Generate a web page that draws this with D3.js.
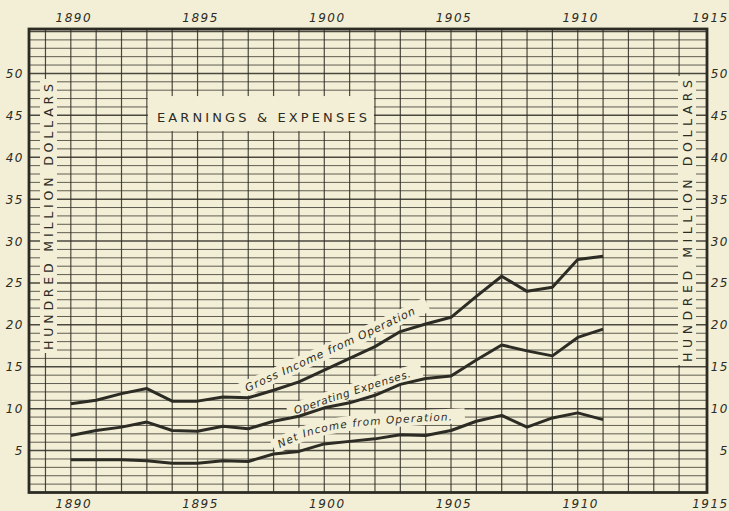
<!DOCTYPE html>
<html>
<head>
<meta charset="utf-8">
<script src="https://cdn.jsdelivr.net/npm/d3@7"></script>
<style>
html, body { margin: 0; padding: 0; background: #f3efd7; }
svg { display: block; }
</style>
</head>
<body>
<div id="chart"></div>
<script>
// values in hundred million dollars
const years = d3.range(1890, 1912);
const gross     = [10.6, 11.0, 11.8, 12.4, 10.9, 10.9, 11.4, 11.3, 12.2, 13.2, 14.6, 16.0, 17.4, 19.2, 20.1, 20.9, 23.4, 25.8, 24.0, 24.5, 27.8, 28.2];
const operating = [6.8, 7.4, 7.8, 8.4, 7.4, 7.3, 7.9, 7.6, 8.5, 9.1, 10.1, 10.7, 11.6, 12.9, 13.6, 13.9, 15.8, 17.6, 16.9, 16.3, 18.5, 19.5];
const net       = [3.9, 3.9, 3.9, 3.8, 3.5, 3.5, 3.8, 3.7, 4.6, 4.9, 5.8, 6.1, 6.4, 6.9, 6.8, 7.4, 8.5, 9.2, 7.8, 8.9, 9.5, 8.7];

const yTicks = [5, 10, 15, 20, 25, 30, 35, 40, 45, 50];
const yearTicks = [1890, 1895, 1900, 1905, 1910, 1915];
const seriesNames = ["Gross Income from Operation", "Operating Expenses.", "Net Income from Operation."];
const chartTitle = "EARNINGS & EXPENSES";
const unitTitle = "HUNDRED MILLION DOLLARS";

const W = 729, H = 511;
const ink = "#2d2c24", paper = "#f3efd7";

const x = d3.scaleLinear().domain([1888.35, 1915.1]).range([29, 707]);
const y = d3.scaleLinear().domain([0, 55.3]).range([492.5, 29]);

const svg = d3.select("#chart").append("svg")
	.attr("width", W)
	.attr("height", H)
	.style("background", paper);

// grid
const grid = svg.append("g").attr("stroke", ink).attr("fill", "none");
grid.selectAll(".h")
	.data(d3.range(1, 56))
	.enter().append("line")
	.attr("x1", x.range()[0]).attr("x2", x.range()[1])
	.attr("y1", (d) => y(d)).attr("y2", (d) => y(d))
	.attr("stroke-width", (d) => d % 5 === 0 ? 1.5 : 1)
	.attr("stroke-opacity", (d) => d % 5 === 0 ? 0.85 : 0.75);
grid.selectAll(".v")
	.data(d3.range(1889, 1915))
	.enter().append("line")
	.attr("x1", (d) => x(d)).attr("x2", (d) => x(d))
	.attr("y1", y.range()[0]).attr("y2", y.range()[1])
	.attr("stroke-width", 1.2)
	.attr("stroke-opacity", 0.85);

// blank areas for the lettering
const masks = svg.append("g").attr("fill", paper);
masks.append("rect") // title box between 1893 and 1902
	.attr("x", x(1893) + 1).attr("y", y(47.3))
	.attr("width", x(1902) - x(1893) - 2).attr("height", y(43) - y(47.3) - 1);
masks.append("rect")
	.attr("x", 40).attr("y", 79).attr("width", 17).attr("height", 274);
masks.append("rect")
	.attr("x", 678).attr("y", 76).attr("width", 18).attr("height", 289);

// label paths in data space
const labelPaths = [
	[[1896.95, 12.0], [1900.8, 17.3], [1903.8, 21.6]],
	[[1898.85, 9.35], [1901.2, 11.7], [1903.55, 13.9]],
	[[1898.25, 5.3], [1900.6, 7.6], [1905.25, 8.65]]
];
const labelLengths = [186, 122, 176];
const labelSizes = [11, 10.5, 10.5];

const labelLine = d3.line()
	.x((d) => x(d[0]))
	.y((d) => y(d[1]))
	.curve(d3.curveNatural);

const defs = svg.append("defs");
labelPaths.forEach(function(p, i) {
	defs.append("path").attr("id", "lp" + i).attr("d", labelLine(p));
	svg.append("path")
		.attr("d", labelLine(p))
		.attr("transform", "translate(0,-4)")
		.attr("fill", "none")
		.attr("stroke", paper)
		.attr("stroke-width", 15)
		.attr("stroke-linecap", "square");
});

// series
const line = d3.line()
	.x((d, i) => x(years[i]))
	.y((d) => y(d));
svg.selectAll(".series")
	.data([gross, operating, net])
	.enter().append("path")
	.attr("d", line)
	.attr("fill", "none")
	.attr("stroke", ink)
	.attr("stroke-width", 3)
	.attr("stroke-linejoin", "round");

// series labels
seriesNames.forEach(function(name, i) {
	svg.append("text")
		.style("font-family", "DejaVu Sans, sans-serif")
		.style("font-style", "italic")
		.style("font-size", labelSizes[i] + "px")
		.attr("fill", ink)
		.append("textPath")
		.attr("href", "#lp" + i)
		.attr("textLength", labelLengths[i])
		.attr("lengthAdjust", "spacing")
		.text(name);
});

// title
svg.append("text")
	.attr("x", (x(1893) + x(1902)) / 2 + 1)
	.attr("y", 122)
	.attr("text-anchor", "middle")
	.attr("textLength", 210)
	.attr("lengthAdjust", "spacing")
	.style("font-family", "DejaVu Sans, sans-serif")
	.style("font-size", "13px")
	.attr("fill", ink)
	.text(chartTitle);

// unit titles
[[53, 217, 266], [692, 221, 282]].forEach(function(t) {
	svg.append("text")
		.attr("transform", `translate(${t[0]},${t[1]}) rotate(-90)`)
		.attr("text-anchor", "middle")
		.attr("textLength", t[2])
		.attr("lengthAdjust", "spacing")
		.style("font-family", "DejaVu Sans, sans-serif")
		.style("font-size", "12.5px")
		.attr("fill", ink)
		.text(unitTitle);
});

// value labels both sides
const numStyle = (sel) => sel
	.style("font-family", "DejaVu Sans, sans-serif")
	.style("font-style", "italic")
	.style("font-size", "12px")
	.style("letter-spacing", "1.5px")
	.attr("fill", ink);

svg.selectAll(".yl")
	.data(yTicks)
	.enter().append("text")
	.attr("x", 24).attr("y", (d) => y(d) + 4.5)
	.attr("text-anchor", "end")
	.text((d) => d)
	.call(numStyle);
svg.selectAll(".yr")
	.data(yTicks)
	.enter().append("text")
	.attr("x", 729).attr("y", (d) => y(d) + 4.5)
	.attr("text-anchor", "end")
	.text((d) => d)
	.call(numStyle);

// year labels top and bottom
[22, 508].forEach(function(yy) {
	svg.selectAll(null)
		.data(yearTicks)
		.enter().append("text")
		.attr("x", (d) => x(d) + (d === 1915 ? 6 : 3))
		.attr("y", yy)
		.attr("text-anchor", "middle")
		.text((d) => d)
		.call(numStyle);
});

// frame
svg.append("rect")
	.attr("x", x.range()[0]).attr("y", y.range()[1])
	.attr("width", x.range()[1] - x.range()[0])
	.attr("height", y.range()[0] - y.range()[1])
	.attr("fill", "none")
	.attr("stroke", ink)
	.attr("stroke-width", 2.8);
</script>
</body>
</html>
